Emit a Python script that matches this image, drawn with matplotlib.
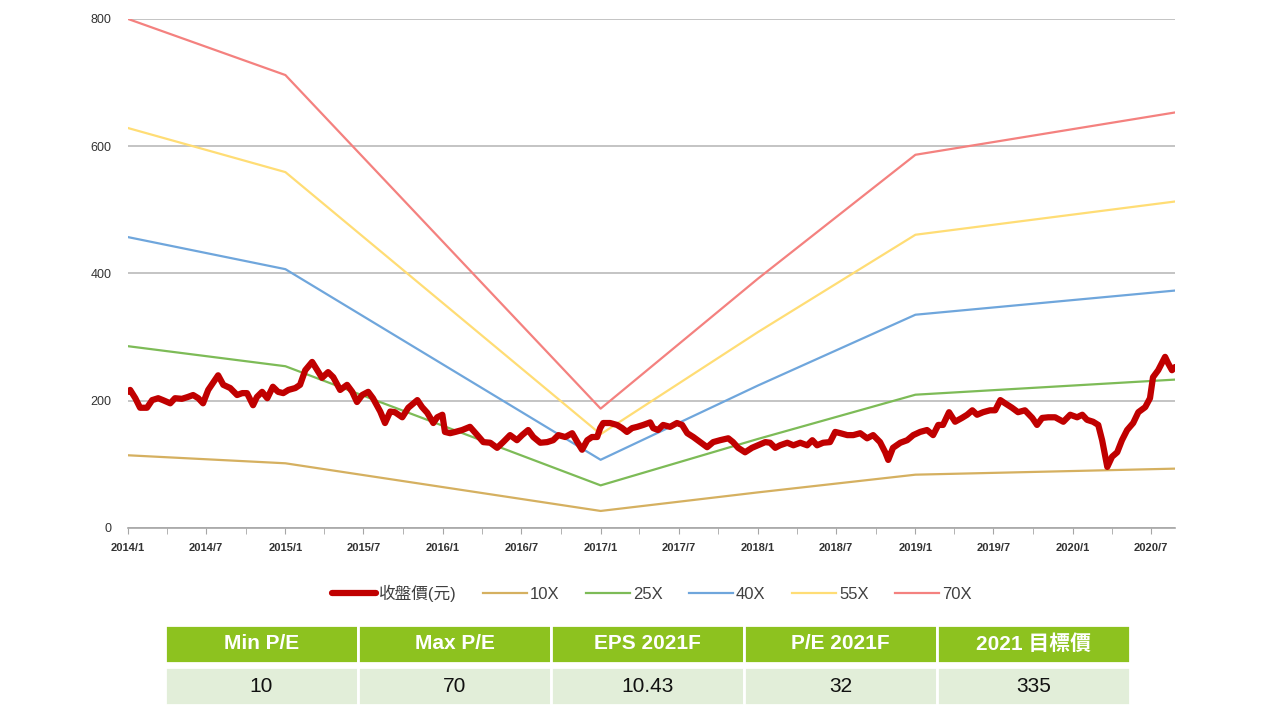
import pandas as pd
import matplotlib
matplotlib.use("Agg")
import matplotlib.pyplot as plt
import matplotlib.dates as mdates
from matplotlib.patches import Rectangle

plt.rcParams["font.family"] = ["Liberation Sans", "Noto Sans CJK TC", "DejaVu Sans"]

# 收盤價
price_dates = [
    "2014-01-02", "2014-01-06", "2014-01-18", "2014-01-29", "2014-02-14", "2014-02-26", "2014-03-12",
    "2014-03-23", "2014-04-09", "2014-04-20", "2014-05-06", "2014-05-20", "2014-06-01",
    "2014-06-13", "2014-06-24", "2014-07-06", "2014-07-17", "2014-07-29", "2014-08-10",
    "2014-08-26", "2014-09-11", "2014-09-23", "2014-10-04", "2014-10-18", "2014-10-27",
    "2014-11-08", "2014-11-20", "2014-12-03", "2014-12-15", "2014-12-27", "2015-01-08",
    "2015-01-24", "2015-02-04", "2015-02-16", "2015-03-04", "2015-03-16", "2015-03-27",
    "2015-04-10", "2015-04-22", "2015-05-08", "2015-05-24", "2015-06-05", "2015-06-16",
    "2015-06-28", "2015-07-12", "2015-07-23", "2015-08-09", "2015-08-20", "2015-09-01",
    "2015-09-12", "2015-09-29", "2015-10-13", "2015-11-03", "2015-11-14", "2015-11-26",
    "2015-12-10", "2015-12-19", "2015-12-31", "2016-01-06", "2016-01-18", "2016-01-30",
    "2016-02-15", "2016-03-04", "2016-03-21", "2016-04-04", "2016-04-20", "2016-05-06",
    "2016-05-20", "2016-06-05", "2016-06-21", "2016-07-03", "2016-07-17", "2016-07-29",
    "2016-08-14", "2016-08-30", "2016-09-13", "2016-09-25", "2016-10-11", "2016-10-27",
    "2016-11-08", "2016-11-19", "2016-12-01", "2016-12-12", "2016-12-24", "2016-12-31",
    "2017-01-07", "2017-01-23", "2017-02-08", "2017-02-20", "2017-03-03", "2017-03-15",
    "2017-03-27", "2017-04-10", "2017-04-26", "2017-05-03", "2017-05-14", "2017-05-26",
    "2017-06-11", "2017-06-27", "2017-07-09", "2017-07-21", "2017-08-04", "2017-08-20",
    "2017-09-05", "2017-09-19", "2017-10-05", "2017-10-24", "2017-11-04", "2017-11-16",
    "2017-12-02", "2017-12-18", "2018-01-01", "2018-01-18", "2018-01-29", "2018-02-10",
    "2018-02-21", "2018-03-10", "2018-03-24", "2018-04-09", "2018-04-25", "2018-05-07",
    "2018-05-18", "2018-06-01", "2018-06-17", "2018-06-29", "2018-07-11", "2018-07-27",
    "2018-08-10", "2018-08-26", "2018-09-11", "2018-09-25", "2018-10-11", "2018-10-23",
    "2018-10-30", "2018-11-10", "2018-11-27", "2018-12-13", "2018-12-27", "2019-01-12",
    "2019-01-28", "2019-02-11", "2019-02-23", "2019-03-06", "2019-03-20", "2019-04-03",
    "2019-04-19", "2019-05-01", "2019-05-13", "2019-05-24", "2019-06-07", "2019-06-23",
    "2019-07-05", "2019-07-17", "2019-07-28", "2019-08-13", "2019-08-27", "2019-09-12",
    "2019-09-29", "2019-10-10", "2019-10-22", "2019-11-05", "2019-11-21", "2019-12-10",
    "2019-12-26", "2020-01-11", "2020-01-23", "2020-02-03", "2020-02-17", "2020-02-29",
    "2020-03-09", "2020-03-21", "2020-04-01", "2020-04-13", "2020-04-24", "2020-05-06",
    "2020-05-20", "2020-06-01", "2020-06-17", "2020-06-28", "2020-07-05", "2020-07-17",
    "2020-08-02", "2020-08-09", "2020-08-18", "2020-08-25",
]
price_values = [
    214, 217, 204, 189, 189, 201, 204,
    201, 196, 204, 203, 206, 209,
    204, 196, 217, 228, 240, 225,
    220, 209, 212, 212, 193, 206,
    214, 204, 222, 214, 212, 217,
    220, 225, 248, 261, 248, 236,
    245, 237, 217, 225, 214, 198,
    209, 214, 204, 183, 165, 183,
    182, 174, 189, 201, 190, 181,
    165, 174, 178, 151, 149, 151,
    154, 159, 146, 135, 134, 126,
    135, 146, 138, 146, 154, 143,
    134, 135, 138, 146, 143, 149,
    135, 123, 138, 143, 143, 157,
    165, 165, 162, 157, 151, 157,
    159, 162, 166, 157, 154, 162,
    159, 165, 162, 149, 143, 135,
    127, 135, 138, 141, 135, 126,
    119, 126, 130, 135, 134, 126,
    130, 134, 130, 134, 130, 138,
    130, 134, 135, 151, 149, 146,
    146, 149, 141, 146, 135, 119,
    107, 126, 134, 138, 146, 151,
    154, 146, 162, 162, 182, 167,
    173, 178, 185, 178, 182, 185,
    185, 201, 196, 189, 182, 185,
    173, 162, 173, 174, 174, 167,
    178, 174, 178, 170, 167, 162,
    138, 96, 112, 119, 138, 154,
    165, 182, 190, 204, 237, 248,
    269, 259, 248, 253,
]

# EPS used for the P/E bands (band = EPS x multiple)
eps_dates = ["2014-01-01", "2015-01-01", "2017-01-01", "2018-01-01", "2019-01-01", "2020-08-25"]
eps_values = [11.43, 10.17, 2.68, 5.6, 8.38, 9.33]
multiples = [10, 25, 40, 55, 70]
band_colors = ["#D5B060", "#7DBB57", "#6FA6DC", "#FFDD75", "#F4817F"]

# table
table_header = ["Min P/E", "Max P/E", "EPS 2021F", "P/E 2021F", "2021 目標價"]
table_values = ["10", "70", "10.43", "32", "335"]

price_x = pd.to_datetime(price_dates)
eps_x = pd.to_datetime(eps_dates)

fig = plt.figure(figsize=(12.8, 7.2), dpi=100)
ax = fig.add_axes([128 / 1280, 1 - 528 / 720, (1175 - 128) / 1280, (528 - 19) / 720])

for m, c in zip(multiples, band_colors):
    ax.plot(eps_x, [e * m for e in eps_values], color=c, lw=1.6, label=f"{m}X", zorder=3)

ax.plot(price_x, price_values, color="#C00000", lw=4.5, solid_joinstyle="round",
        solid_capstyle="round", label="收盤價(元)", zorder=4)

ax.set_xlim(pd.Timestamp("2014-01-01"), pd.Timestamp("2020-08-25"))
ax.set_ylim(0, 800)
ax.set_yticks([0, 200, 400, 600, 800])
ax.yaxis.grid(True, color="#BFBFBF", lw=1.3)
ax.set_axisbelow(True)

for s in ["top", "right", "left"]:
    ax.spines[s].set_visible(False)
ax.spines["bottom"].set_color("#A6A6A6")
ax.spines["bottom"].set_linewidth(1.2)
ax.spines["bottom"].set_zorder(2)

ax.xaxis.set_major_locator(mdates.MonthLocator(bymonth=[1, 7]))
ax.xaxis.set_minor_locator(mdates.MonthLocator(bymonth=[4, 10]))
ax.xaxis.set_major_formatter(mdates.DateFormatter("%Y/%-m"))
ax.tick_params(axis="x", which="both", direction="out", length=4, color="#A6A6A6",
               labelsize=8, pad=7, labelcolor="#333333")
ax.tick_params(axis="y", length=0, labelsize=9, pad=12, labelcolor="#333333")
for lab in ax.get_xticklabels():
    lab.set_fontweight("bold")

# legend: price first, then bands
h, l = ax.get_legend_handles_labels()
order = [5, 0, 1, 2, 3, 4]
fig.legend([h[i] for i in order], [l[i] for i in order], loc="center",
           bbox_to_anchor=(652 / 1280, 1 - 593 / 720), ncol=6, frameon=False,
           fontsize=12, handlelength=2.6, handletextpad=0.2, columnspacing=1.6,
           labelcolor="#404040")

# table below the legend
tx = fig.add_axes([165 / 1280, 15 / 720, 965 / 1280, 80 / 720])
tx.set_xlim(0, 5)
tx.set_ylim(0, 2)
tx.axis("off")
for i, (hd, v) in enumerate(zip(table_header, table_values)):
    tx.add_patch(Rectangle((i, 1.06), 1, 0.94, facecolor="#8DC21F", edgecolor="white", lw=2))
    tx.add_patch(Rectangle((i, 0), 1, 0.96, facecolor="#E2EED9", edgecolor="white", lw=2))
    tx.text(i + 0.5, 1.53, hd, ha="center", va="center", color="white",
            fontsize=15, fontweight="bold")
    tx.text(i + 0.5, 0.47, v, ha="center", va="center", color="#111111", fontsize=15)

fig.savefig("out.png", dpi=100)
